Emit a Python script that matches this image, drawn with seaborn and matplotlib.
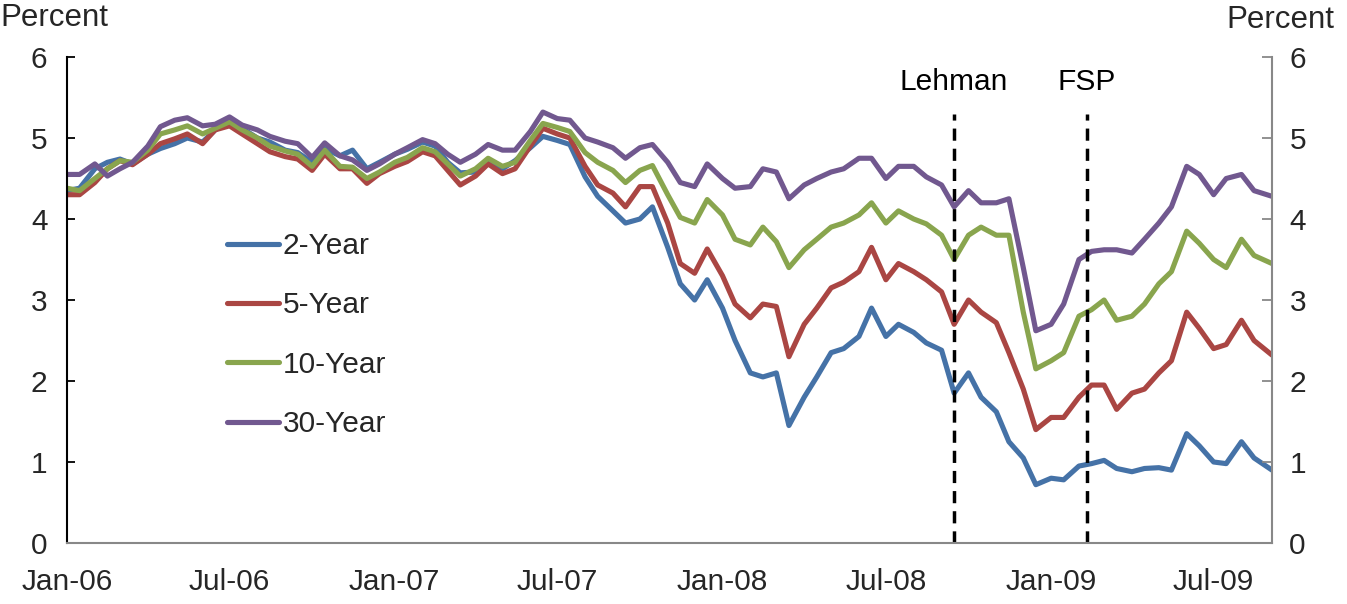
import matplotlib
matplotlib.use('Agg')
import matplotlib.pyplot as plt
import matplotlib.dates as mdates
import numpy as np
import pandas as pd
import seaborn as sns

# semi-monthly readings (1st and 15th), last point early Sep 2009
dates = list(pd.date_range('2006-01-01', '2009-08-15', freq='SMS')) + [pd.Timestamp('2009-09-04')]

y2 = [4.35, 4.38, 4.62, 4.70, 4.74, 4.68, 4.80, 4.87, 4.93, 5.00, 4.95, 5.10, 5.22, 5.12, 5.00, 4.95, 4.85, 4.82, 4.70, 4.87, 4.78, 4.85, 4.62, 4.70,
      4.80, 4.86, 4.95, 4.90, 4.70, 4.57, 4.58, 4.72, 4.62, 4.72, 4.88, 5.02, 4.97, 4.92, 4.52, 4.28, 4.10, 3.95, 4.00, 4.15, 3.65, 3.20, 3.00, 3.25,
      2.90, 2.50, 2.10, 2.05, 2.10, 1.45, 1.80, 2.05, 2.35, 2.40, 2.55, 2.90, 2.55, 2.70, 2.60, 2.47, 2.38, 1.85, 2.10, 1.80, 1.62, 1.25, 1.05, 0.72,
      0.80, 0.78, 0.95, 0.98, 1.02, 0.92, 0.88, 0.92, 0.93, 0.90, 1.35, 1.20, 1.00, 0.98, 1.25, 1.05, 0.90]
y5 = [4.30, 4.30, 4.45, 4.62, 4.72, 4.67, 4.80, 4.93, 4.99, 5.05, 4.93, 5.10, 5.15, 5.05, 4.93, 4.83, 4.77, 4.74, 4.60, 4.80, 4.62, 4.62, 4.44, 4.56,
      4.65, 4.71, 4.83, 4.78, 4.60, 4.42, 4.53, 4.68, 4.56, 4.62, 4.90, 5.12, 5.05, 5.00, 4.65, 4.42, 4.32, 4.15, 4.40, 4.40, 3.95, 3.45, 3.33, 3.63,
      3.30, 2.95, 2.78, 2.95, 2.92, 2.30, 2.70, 2.90, 3.15, 3.22, 3.35, 3.65, 3.25, 3.45, 3.35, 3.25, 3.10, 2.70, 3.00, 2.85, 2.72, 2.35, 1.90, 1.40,
      1.55, 1.55, 1.80, 1.95, 1.95, 1.65, 1.85, 1.90, 2.10, 2.25, 2.85, 2.65, 2.40, 2.45, 2.75, 2.50, 2.32]
y10 = [4.38, 4.35, 4.50, 4.62, 4.72, 4.70, 4.85, 5.05, 5.10, 5.15, 5.05, 5.12, 5.20, 5.10, 5.00, 4.90, 4.84, 4.80, 4.65, 4.85, 4.65, 4.64, 4.50, 4.58,
       4.70, 4.76, 4.88, 4.83, 4.68, 4.53, 4.62, 4.75, 4.65, 4.70, 4.97, 5.18, 5.13, 5.08, 4.82, 4.70, 4.60, 4.45, 4.60, 4.66, 4.30, 4.02, 3.95, 4.24,
       4.05, 3.75, 3.68, 3.90, 3.72, 3.40, 3.62, 3.75, 3.90, 3.95, 4.05, 4.20, 3.95, 4.10, 4.00, 3.94, 3.80, 3.50, 3.80, 3.90, 3.80, 3.80, 2.85, 2.15,
       2.25, 2.35, 2.80, 2.88, 3.00, 2.75, 2.80, 2.95, 3.20, 3.35, 3.85, 3.70, 3.50, 3.40, 3.75, 3.55, 3.45]
y30 = [4.55, 4.55, 4.68, 4.53, 4.62, 4.70, 4.90, 5.14, 5.22, 5.25, 5.15, 5.17, 5.26, 5.16, 5.10, 5.02, 4.96, 4.93, 4.76, 4.94, 4.78, 4.73, 4.60, 4.68,
       4.80, 4.88, 4.98, 4.93, 4.80, 4.70, 4.80, 4.92, 4.85, 4.85, 5.08, 5.32, 5.24, 5.22, 5.00, 4.95, 4.88, 4.75, 4.88, 4.92, 4.70, 4.45, 4.40, 4.68,
       4.50, 4.38, 4.40, 4.62, 4.58, 4.25, 4.42, 4.50, 4.58, 4.62, 4.75, 4.75, 4.50, 4.65, 4.65, 4.52, 4.42, 4.15, 4.35, 4.20, 4.20, 4.25, 3.40, 2.62,
       2.70, 2.95, 3.50, 3.60, 3.62, 3.62, 3.58, 3.75, 3.95, 4.15, 4.65, 4.55, 4.30, 4.50, 4.55, 4.35, 4.28]

series_names = ['2-Year', '5-Year', '10-Year', '30-Year']
colors = ['#4572A7', '#AA4643', '#89A54E', '#71588F']

events = ['Lehman', 'FSP']
event_dates = [pd.Timestamp('2008-09-15'), pd.Timestamp('2009-02-10')]

df = pd.DataFrame({'date': dates, '2-Year': y2, '5-Year': y5, '10-Year': y10, '30-Year': y30})
long = df.melt(id_vars='date', var_name='series', value_name='pct')

sns.set_style('white')
plt.rcParams['font.family'] = ['Liberation Sans', 'DejaVu Sans']
fs = 21.5
lw = 3.7

fig = plt.figure(figsize=(13.47, 6.04), dpi=100)
ax = fig.add_axes([67/1347, 61/604, 1205/1347, 486/604])

sns.lineplot(data=long, x='date', y='pct', hue='series', hue_order=series_names,
             palette=colors, linewidth=lw, ax=ax, legend=False)

# event markers
for name, d in zip(events, event_dates):
    ax.vlines(d, 0, 5.3, colors='black', linewidth=2.5, linestyles=(0, (3.5, 2.3)))
    ax.text(d, 5.69, name, ha='center', va='center', fontsize=fs, color='black')

ax.set_xlim(pd.Timestamp('2006-01-01'), pd.Timestamp('2009-09-04'))
ax.set_ylim(0, 6)
ax.set_yticks(range(7))
ax.xaxis.set_major_locator(mdates.MonthLocator(bymonth=[1, 7]))
ax.xaxis.set_major_formatter(mdates.DateFormatter('%b-%y'))
ax.set_xlabel('')
ax.set_ylabel('')

for s in ['top', 'right']:
    ax.spines[s].set_visible(False)
ax.spines['left'].set_color('black')
ax.spines['left'].set_linewidth(1.5)
ax.spines['bottom'].set_color('#888888')
ax.spines['bottom'].set_linewidth(1.5)
ax.tick_params(axis='y', direction='in', length=6, width=1.3, color='black', labelsize=fs, pad=14)
ax.tick_params(axis='x', direction='in', length=7, width=1.3, color='#888888', labelsize=fs, pad=18)

ax2 = ax.twinx()
ax2.set_ylim(0, 6)
ax2.set_yticks(range(7))
for s in ['top', 'left', 'bottom']:
    ax2.spines[s].set_visible(False)
ax2.spines['right'].set_color('#888888')
ax2.spines['right'].set_linewidth(1.5)
ax2.tick_params(axis='y', direction='in', length=7, width=1.3, color='#888888', labelsize=fs, pad=12.5)
ax2.grid(False)
ax.grid(False)

fig.text(0.0, 1 - 18/604, 'Percent', ha='left', va='center', fontsize=fs + 1)
fig.text(1334/1347, 1 - 20/604, 'Percent', ha='right', va='center', fontsize=fs + 1)

handles = [plt.Line2D([], [], color=c, linewidth=lw) for c in colors]
fig.legend(handles, series_names, loc='upper left', bbox_to_anchor=(227/1347, 1 - 232/604),
           frameon=False, fontsize=fs, handlelength=1.75, handletextpad=0.12,
           labelspacing=1.05, borderpad=0, borderaxespad=0)

fig.savefig('out.png', dpi=100)
